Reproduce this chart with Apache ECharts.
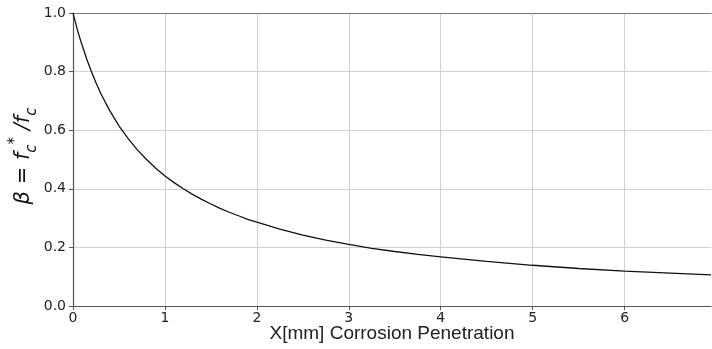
<!DOCTYPE html>
<html>
<head>
<meta charset="utf-8">
<script src="https://cdn.jsdelivr.net/npm/echarts@6/dist/echarts.min.js"></script>
<style>html,body{margin:0;padding:0;background:#fff}#c{width:712px;height:349px}</style>
</head>
<body>
<div id="c"></div>
<script>
const xValues = [0, 0.025, 0.05, 0.075, 0.1, 0.15, 0.2, 0.25, 0.3, 0.35, 0.4, 0.5, 0.6, 0.7, 0.8, 0.9, 1.0, 1.1, 1.2, 1.3, 1.4, 1.5, 1.6, 1.7, 1.8, 1.9, 2.0, 2.25, 2.5, 2.75, 3.0, 3.25, 3.5, 3.75, 4.0, 4.5, 5.0, 5.5, 6.0, 6.5, 6.94];
const betaValues = [1.0, 0.97, 0.94, 0.914, 0.889, 0.842, 0.80, 0.762, 0.727, 0.696, 0.667, 0.615, 0.571, 0.533, 0.50, 0.47, 0.444, 0.421, 0.40, 0.381, 0.364, 0.348, 0.333, 0.32, 0.308, 0.296, 0.286, 0.262, 0.242, 0.225, 0.21, 0.197, 0.186, 0.176, 0.168, 0.152, 0.139, 0.128, 0.119, 0.112, 0.106];
const xTicks = [0, 1, 2, 3, 4, 5, 6];
const yTicks = [0.0, 0.2, 0.4, 0.6, 0.8, 1.0];

const chart = echarts.init(document.getElementById('c'));
const fontFam = 'DejaVu Sans';
chart.setOption({
  animation: false,
  grid: { left: 73, right: 1, top: 13, bottom: 43, containLabel: false, outerBoundsMode: 'none' },
  xAxis: [{
    type: 'value', min: 0, max: 6.94, interval: 1,
    axisLine: { show: true, lineStyle: { color: '#555', width: 1.2 } },
    axisTick: { show: true, length: 4, customValues: xTicks, lineStyle: { color: '#555' } },
    axisLabel: { color: '#222', fontSize: 14, fontFamily: fontFam, margin: 5, customValues: xTicks,
      formatter: v => String(v) },
    splitLine: { show: true, lineStyle: { color: '#d0d0d0', width: 1 } },
    name: 'X[mm] Corrosion Penetration', nameLocation: 'middle', nameGap: 18, nameMoveOverlap: false,
    nameTextStyle: { color: '#222', fontSize: 19, fontFamily: 'Liberation Sans' }
  }, {
    type: 'value', min: 0, max: 6.94, position: 'top',
    axisLine: { show: true, onZero: false, lineStyle: { color: '#777', width: 1.2 } },
    axisTick: { show: false }, axisLabel: { show: false }, splitLine: { show: false }
  }],
  yAxis: {
    type: 'value', min: 0, max: 1, interval: 0.2,
    axisLine: { show: true, lineStyle: { color: '#555', width: 1.2 } },
    axisTick: { show: true, length: 4, lineStyle: { color: '#555' } },
    axisLabel: { color: '#222', fontSize: 14, fontFamily: fontFam, margin: 7,
      formatter: v => v.toFixed(1) },
    splitLine: { show: true, lineStyle: { color: '#d0d0d0', width: 1 } }
  },
  graphic: [{
    type: 'text', x: 24, y: 156, rotation: Math.PI / 2,
    style: {
      text: '{m|β = f}{sub|c}{sup|*}{m| /f}{sub|c}',
      align: 'center', verticalAlign: 'middle',
      rich: {
        m: { fontSize: 21, fontStyle: 'italic', fontFamily: fontFam, fill: '#111', lineHeight: 32, verticalAlign: 'middle' },
        sub: { fontSize: 15, fontStyle: 'italic', fontFamily: fontFam, fill: '#111', lineHeight: 32, verticalAlign: 'bottom' },
        sup: { fontSize: 15, fontStyle: 'italic', fontFamily: fontFam, fill: '#111', lineHeight: 32, verticalAlign: 'top' }
      }
    }
  }],
  series: [{
    type: 'line', xAxisIndex: 0,
    data: xValues.map((x, i) => [x, betaValues[i]]),
    showSymbol: false, smooth: false,
    lineStyle: { color: '#111', width: 1.3 }
  }]
});
</script>
</body>
</html>
